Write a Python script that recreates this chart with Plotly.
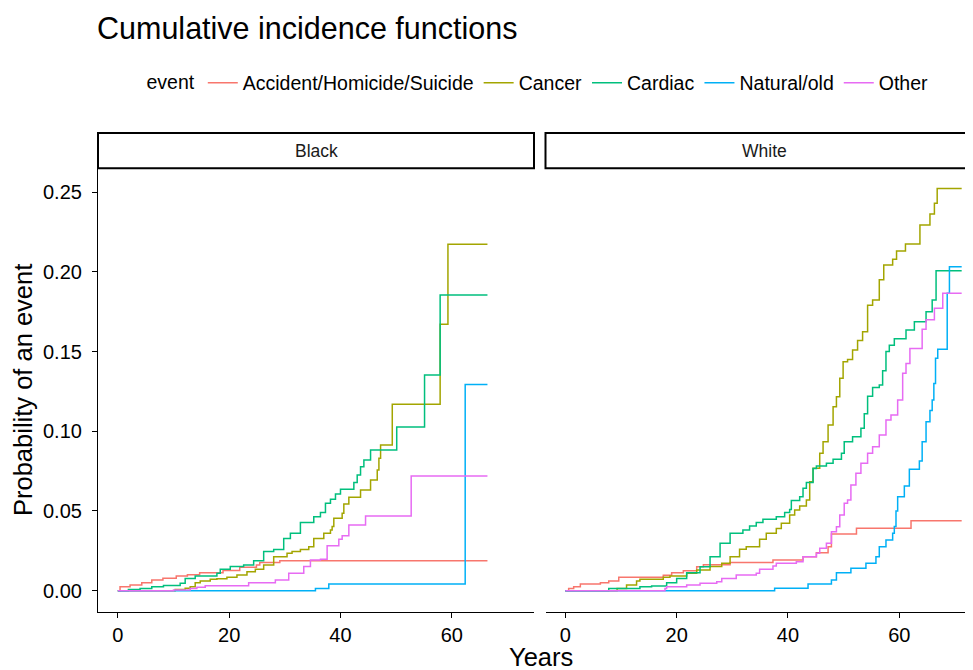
import plotly.graph_objects as go

# ---------------- data ----------------
events = ["Accident/Homicide/Suicide", "Cancer", "Cardiac", "Natural/old", "Other"]
colors = ["#F8766D", "#A3A500", "#00BF7D", "#00B0F6", "#E76BF3"]
panels = ["Black", "White"]
x_ticks = [0, 20, 40, 60]
y_ticks = [0.00, 0.05, 0.10, 0.15, 0.20, 0.25]
y_tick_labels = ["0.00", "0.05", "0.10", "0.15", "0.20", "0.25"]

# Black
acc_b_t = [0, 0.4, 2.2, 4.3, 6.1, 8.1, 10.5, 12.5, 14.7, 18.9, 21.9, 24.9, 25.5, 29.1, 66.4]
acc_b_v = [0, 0.0025, 0.0036, 0.005, 0.0067, 0.0078, 0.0092, 0.0100, 0.0113, 0.0126, 0.0147, 0.0161, 0.0176, 0.0188, 0.0188]

can_b_t = [0, 10.3, 12.1, 13.0, 13.9, 14.8, 16.6, 17.8, 19.6, 21.4, 23.2, 24.7, 26.2, 28.0, 30.4, 31.3, 32.8, 34.3, 35.2,
           37.0, 38.2, 38.5, 38.8, 40.3, 40.6, 41.5, 43.6, 45.4, 46.6, 46.9, 47.2, 49.3, 57.9, 59.3, 66.4]
can_b_v = [0, 0.0008, 0.0015, 0.0025, 0.005, 0.006, 0.0071, 0.0075, 0.0084, 0.0098, 0.0119, 0.0134, 0.0161, 0.0213, 0.0234,
           0.0245, 0.0259, 0.0276, 0.0328, 0.036, 0.0381, 0.0402, 0.0454, 0.0485, 0.0544, 0.0586, 0.0632, 0.0695, 0.0757,
           0.0831, 0.0914, 0.117, 0.1671, 0.2173, 0.2173]

car_b_t = [0, 1.9, 4.0, 6.1, 8.2, 11.2, 12.1, 13.9, 17.8, 18.4, 20.2, 22.6, 24.4, 26.2, 28.0, 29.8, 31.0, 32.8, 35.2, 36.4,
           37.3, 38.2, 39.1, 40.0, 42.4, 43.0, 43.6, 44.2, 45.4, 50.1, 55.1, 57.9, 66.4]
car_b_v = [0, 0.0008, 0.0013, 0.0025, 0.0033, 0.0046, 0.0077, 0.0092, 0.0109, 0.0134, 0.0151, 0.0161, 0.0188, 0.0245,
           0.0259, 0.0328, 0.036, 0.0427, 0.0464, 0.0491, 0.0548, 0.0573, 0.0606, 0.0636, 0.0678, 0.0726, 0.0778, 0.082,
           0.0882, 0.1027, 0.1353, 0.1855, 0.1855]

nat_b_t = [0, 35.5, 37.9, 62.4, 66.4]
nat_b_v = [0, 0.0013, 0.0042, 0.1294, 0.1294]

oth_b_t = [0, 10.0, 13.0, 14.2, 15.7, 23.5, 28.3, 30.7, 33.4, 34.6, 36.4, 37.6, 39.7, 40.3, 41.5, 44.5, 52.7, 66.4]
oth_b_v = [0, 0.0004, 0.0013, 0.0021, 0.0031, 0.005, 0.0067, 0.0109, 0.0151, 0.0192, 0.0197, 0.0282, 0.0322, 0.0345,
           0.0412, 0.0469, 0.0719, 0.0719]

# White
acc_w_t = [0, 0.6, 1.5, 2.7, 6.3, 7.8, 9.6, 17.6, 19.1, 21.2, 23.6, 24.8, 29.6, 37.3, 42.7, 45.1, 47.2, 47.8, 52.3, 62.1, 71.2]
acc_w_v = [0, 0.0013, 0.0025, 0.0042, 0.005, 0.006, 0.0084, 0.0096, 0.0113, 0.0125, 0.015, 0.0163, 0.0176, 0.0192,
           0.0213, 0.0238, 0.0276, 0.0356, 0.0391, 0.0439, 0.0439]

can_w_t = [0, 9.3, 11.0, 12.8, 13.4, 17.6, 18.8, 21.8, 23.6, 26.0, 28.1, 29.6, 31.3, 32.5, 34.9, 36.1, 37.9, 38.8, 40.3,
           41.2, 42.1, 43.3, 43.9, 44.5, 45.7, 46.3, 47.2, 48.1, 48.7, 49.3, 49.9, 50.7, 51.6, 52.5, 53.4, 54.3, 55.2,
           56.4, 57.2, 58.8, 59.5, 61.1, 63.7, 65.5, 66.3, 66.8, 71.2]
can_w_v = [0, 0.0013, 0.0036, 0.0061, 0.0071, 0.0084, 0.0092, 0.0109, 0.013, 0.0151, 0.0172, 0.0213, 0.026, 0.0276,
           0.0322, 0.036, 0.039, 0.0423, 0.0475, 0.0506, 0.0531, 0.0569, 0.0684, 0.0768, 0.0862, 0.0935, 0.104, 0.1154,
           0.1217, 0.1332, 0.1436, 0.1451, 0.151, 0.157, 0.1625, 0.179, 0.1824, 0.195, 0.2043, 0.2079, 0.2131, 0.2175,
           0.2294, 0.2363, 0.243, 0.2524, 0.2524]

car_w_t = [0, 7.8, 13.4, 15.5, 18.2, 20.0, 21.8, 24.2, 26.0, 27.8, 29.6, 31.9, 33.1, 34.3, 35.5, 37.9, 39.4, 40.3, 40.6,
           42.1, 42.7, 43.3, 44.5, 45.1, 46.9, 48.1, 49.6, 50.1, 51.6, 53.1, 53.7, 54.3, 55.2, 56.4, 57.0, 57.6, 58.2,
           59.1, 61.2, 62.7, 64.8, 65.9, 66.6, 71.2]
car_w_v = [0, 0.0013, 0.0025, 0.0029, 0.005, 0.0077, 0.0113, 0.015, 0.0213, 0.0297, 0.036, 0.0381, 0.0406, 0.0427,
           0.0448, 0.0464, 0.049, 0.051, 0.0565, 0.059, 0.0642, 0.0678, 0.0767, 0.0782, 0.0799, 0.0824, 0.0862, 0.0935,
           0.0966, 0.1019, 0.111, 0.122, 0.1275, 0.129, 0.138, 0.150, 0.154, 0.158, 0.1636, 0.1688, 0.175, 0.1824,
           0.2007, 0.2007]

nat_w_t = [0, 37.6, 43.6, 47.8, 48.7, 51.3, 54.0, 55.8, 56.4, 57.6, 58.8, 59.1, 59.4, 59.7, 60.9, 61.8, 63.6, 64.1,
           64.8, 65.5, 65.9, 66.2, 66.5, 66.9, 68.6, 69.0, 71.2]
nat_w_v = [0, 0.0015, 0.0042, 0.0067, 0.0113, 0.014, 0.0172, 0.0213, 0.0276, 0.0318, 0.036, 0.0402, 0.05, 0.059,
           0.0657, 0.0762, 0.0814, 0.0935, 0.106, 0.113, 0.1196, 0.130, 0.1458, 0.1515, 0.1866, 0.2033, 0.2033]

oth_w_t = [0, 17.9, 18.2, 21.8, 24.2, 27.2, 28.1, 30.7, 34.3, 34.9, 37.3, 37.9, 41.5, 42.7, 45.1, 45.7, 46.9, 47.8, 48.7,
           49.3, 50.1, 50.7, 51.3, 52.2, 53.1, 54.3, 55.2, 56.4, 57.6, 58.5, 59.7, 60.6, 61.2, 61.9, 64.1, 64.8, 66.3,
           67.8, 71.2]
oth_w_v = [0, 0.0013, 0.0025, 0.0036, 0.0046, 0.0056, 0.0077, 0.0098, 0.0109, 0.0134, 0.0155, 0.0172, 0.0182, 0.0213,
           0.0234, 0.0266, 0.0297, 0.037, 0.0401, 0.0475, 0.0548, 0.0569, 0.0663, 0.0736, 0.0799, 0.0862, 0.0903,
           0.0976, 0.1071, 0.1102, 0.1196, 0.1364, 0.1426, 0.152, 0.164, 0.170, 0.1772, 0.1866, 0.1866]

series = {
    "Black": [(acc_b_t, acc_b_v), (can_b_t, can_b_v), (car_b_t, car_b_v), (nat_b_t, nat_b_v), (oth_b_t, oth_b_v)],
    "White": [(acc_w_t, acc_w_v), (can_w_t, can_w_v), (car_w_t, car_w_v), (nat_w_t, nat_w_v), (oth_w_t, oth_w_v)],
}

# ---------------- layout geometry (pixels of the 973x670 window) ----------------
# the page body has an 8px margin, so the figure is 965x662 and placed at (8, 8)
OFF = 8
W, H = 973 - OFF, 670 - OFF
FONT = "Liberation Sans, Arial, sans-serif"
left_x0, left_x1 = 98, 534
right_x0, right_x1 = 545.5, 973
panel_top, panel_bot = 168.3, 611.7
strip_top = 133


def px(x):
    return (x - OFF) / W


def py(y):
    return 1 - (y - OFF) / H


x_range_left = [-3.56, 74.76]
x_range_right = [-3.56, -3.56 + (right_x1 - right_x0) * (x_range_left[1] - x_range_left[0]) / (left_x1 - left_x0)]
y_range = [-0.0132, 0.265]

fig = go.Figure()
for pi, panel in enumerate(panels):
    xa = "x" if pi == 0 else "x2"
    ya = "y" if pi == 0 else "y2"
    for ei, ev in enumerate(events):
        t, v = series[panel][ei]
        fig.add_trace(go.Scatter(
            x=t, y=v, mode="lines", line=dict(color=colors[ei], width=1.5, shape="hv"),
            name=ev, legendgroup=ev, showlegend=(pi == 0), xaxis=xa, yaxis=ya,
        ))

axis_common = dict(
    showgrid=False, zeroline=False, showline=True, linecolor="black", linewidth=1.1,
    ticks="outside", ticklen=5, tickwidth=1.1, tickcolor="black",
    tickfont=dict(family=FONT, size=20, color="black"),
)

fig.update_layout(
    width=W, height=H,
    margin=dict(l=0, r=0, t=0, b=0),
    paper_bgcolor="white", plot_bgcolor="white",
    font=dict(family=FONT, color="black"),
    title=dict(text="Cumulative incidence functions", x=px(97), xanchor="left",
               y=py(28), yanchor="middle", font=dict(family=FONT, size=30.5, color="black")),
    xaxis=dict(domain=[px(left_x0), px(left_x1)], range=x_range_left, tickvals=x_ticks,
               anchor="y", **axis_common),
    xaxis2=dict(domain=[px(right_x0), min(1.0, px(right_x1))], range=x_range_right, tickvals=x_ticks,
                anchor="y2", **axis_common),
    yaxis=dict(domain=[py(panel_bot), py(panel_top)], range=y_range, tickvals=y_ticks,
               ticktext=y_tick_labels, anchor="x", ticklabelstandoff=6, **axis_common),
    yaxis2=dict(domain=[py(panel_bot), py(panel_top)], range=y_range, matches="y", anchor="x2",
                showline=False, showticklabels=False, ticks="", showgrid=False, zeroline=False),
    legend=dict(orientation="h", x=px(539), xanchor="center", y=py(83), yanchor="middle",
                title=dict(text="event", side="left", font=dict(family=FONT, size=19.5, color="black")),
                font=dict(family=FONT, size=19.5, color="black"), bgcolor="rgba(0,0,0,0)",
                itemwidth=30, tracegroupgap=0),
    showlegend=True,
)

# facet strips
strips = [(left_x0, left_x1, "Black", (left_x0 + left_x1) / 2),
          (right_x0, right_x0 + (left_x1 - left_x0) + 2, "White", 764)]
for x0, x1, label, cx in strips:
    fig.add_shape(type="rect", xref="paper", yref="paper", x0=px(x0), x1=px(x1),
                  y0=py(panel_top), y1=py(strip_top), line=dict(color="black", width=2),
                  fillcolor="white", layer="above")
    fig.add_annotation(text=label, xref="paper", yref="paper", x=px(cx), y=py((panel_top + strip_top) / 2),
                       xanchor="center", yanchor="middle", showarrow=False,
                       font=dict(family=FONT, size=17.5, color="#1A1A1A"))

# axis titles
fig.add_annotation(text="Years", xref="paper", yref="paper", x=px(540.5), y=py(657),
                   xanchor="center", yanchor="middle", showarrow=False,
                   font=dict(family=FONT, size=25.5, color="black"))
fig.add_annotation(text="Probability of an event", xref="paper", yref="paper", x=px(23), y=py(390),
                   xanchor="center", yanchor="middle", showarrow=False, textangle=-90,
                   font=dict(family=FONT, size=25.5, color="black"))

fig.write_html("out.html")
